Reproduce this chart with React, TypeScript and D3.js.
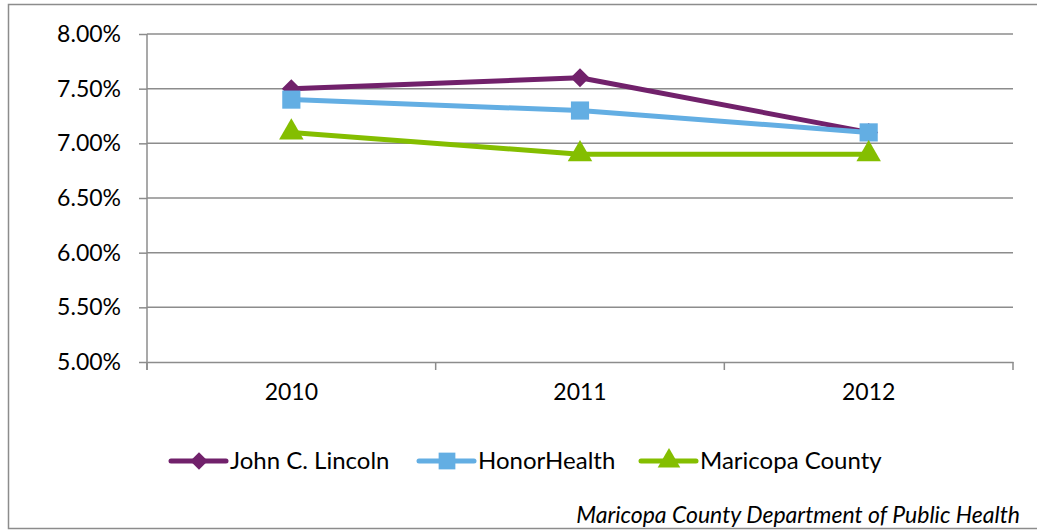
import React, { useEffect, useRef } from "react";
import * as d3 from "d3";

const years = ["2010", "2011", "2012"];
const johnLincoln = [7.5, 7.6, 7.1];
const honorHealth = [7.4, 7.3, 7.1];
const maricopa = [7.1, 6.9, 6.9];
const yTicks = [5.0, 5.5, 6.0, 6.5, 7.0, 7.5, 8.0];
const seriesNames = ["John C. Lincoln", "HonorHealth", "Maricopa County"];
const source = "Maricopa County Department of Public Health";

const colors = ["#71216b", "#63aee3", "#84be00"];
const symbols = [d3.symbolSquare, d3.symbolSquare, d3.symbolTriangle];
const symbolSizes = [180, 330, 260];
const symbolRotate = [45, 0, 0];

const App = () => {
  const ref = useRef<SVGSVGElement>(null);

  useEffect(() => {
    const svg = d3.select(ref.current);
    svg.selectAll("*").remove();

    const width = 1037, height = 531;
    const margin = { top: 34, right: 24, bottom: 169, left: 147 };
    const font = "Lato, 'Open Sans', sans-serif";

    // outer frame
    svg.append("rect")
      .attr("x", 8.5).attr("y", 4.5)
      .attr("width", width + 10).attr("height", 524)
      .attr("fill", "#fff")
      .attr("stroke", "#8c8c8c")
      .attr("stroke-width", 1.5);

    const x = d3.scaleBand()
      .domain(years)
      .range([margin.left, width - margin.right]);

    const y = d3.scaleLinear()
      .domain([5, 8])
      .range([height - margin.bottom, margin.top]);

    // gridlines
    svg.append("g")
      .selectAll("line")
      .data(yTicks.slice(1))
      .join("line")
      .attr("x1", margin.left).attr("x2", width - margin.right)
      .attr("y1", d => y(d)).attr("y2", d => y(d))
      .attr("stroke", "#8c8c8c")
      .attr("stroke-width", 1.5);

    const xAxis = svg.append("g")
      .attr("transform", `translate(0,${height - margin.bottom})`)
      .call(d3.axisBottom(x).tickSize(0).tickPadding(22));
    xAxis.select(".domain").attr("stroke", "#8c8c8c").attr("stroke-width", 1.5);
    xAxis.selectAll("text").attr("font-family", font).attr("font-size", 23).attr("fill", "#000");
    // category boundary ticks
    const bounds = [...years.map(d => x(d)!), width - margin.right];
    xAxis.selectAll("line.bt")
      .data(bounds)
      .join("line")
      .attr("class", "bt")
      .attr("x1", d => d).attr("x2", d => d)
      .attr("y1", 0).attr("y2", 8)
      .attr("stroke", "#8c8c8c")
      .attr("stroke-width", 1.5);

    const yAxis = svg.append("g")
      .attr("transform", `translate(${margin.left},0)`)
      .call(d3.axisLeft(y).tickValues(yTicks).tickSize(8).tickPadding(18)
        .tickFormat(d => d3.format(".2f")(d as number) + "%"));
    yAxis.select(".domain").attr("stroke", "#8c8c8c").attr("stroke-width", 1.5);
    yAxis.selectAll(".tick line").attr("stroke", "#8c8c8c").attr("stroke-width", 1.5);
    yAxis.selectAll("text").attr("font-family", font).attr("font-size", 23).attr("fill", "#000");
    yAxis.selectAll(".domain").attr("d", `M0,${y(5) + 8}V${y(8)}`);

    const cx = (d: string) => x(d)! + x.bandwidth() / 2;
    const line = d3.line<number>()
      .x((_, i) => cx(years[i]))
      .y(d => y(d));

    [johnLincoln, honorHealth, maricopa].forEach((vals, s) => {
      const g = svg.append("g");
      g.append("path")
        .datum(vals)
        .attr("fill", "none")
        .attr("stroke", colors[s])
        .attr("stroke-width", 5)
        .attr("stroke-linejoin", "round")
        .attr("d", line);
      g.selectAll("path.m")
        .data(vals)
        .join("path")
        .attr("class", "m")
        .attr("transform", (d, i) => `translate(${cx(years[i])},${y(d)}) rotate(${symbolRotate[s]})`)
        .attr("d", d3.symbol().type(symbols[s]).size(symbolSizes[s]))
        .attr("fill", colors[s]);
    });

    // legend
    const legendX = [171, 419, 641];
    const ly = 461;
    seriesNames.forEach((name, s) => {
      const g = svg.append("g").attr("transform", `translate(${legendX[s]},${ly})`);
      g.append("line")
        .attr("x1", 0).attr("x2", 55)
        .attr("stroke", colors[s])
        .attr("stroke-width", 5)
        .attr("stroke-linecap", "round");
      g.append("path")
        .attr("transform", `translate(28,0) rotate(${symbolRotate[s]})`)
        .attr("d", d3.symbol().type(symbols[s]).size(symbolSizes[s] * 0.85))
        .attr("fill", colors[s]);
      g.append("text")
        .attr("x", 59).attr("y", 8)
        .attr("font-family", font).attr("font-size", 24)
        .text(name);
    });

    svg.append("text")
      .attr("x", 1020).attr("y", 523)
      .attr("text-anchor", "end")
      .attr("font-family", font).attr("font-size", 23)
      .attr("font-style", "italic")
      .text(source);
  }, []);

  return <svg ref={ref} width={1037} height={531} style={{ position: "absolute", left: 0, top: 0 }} />;
};

export default App;
